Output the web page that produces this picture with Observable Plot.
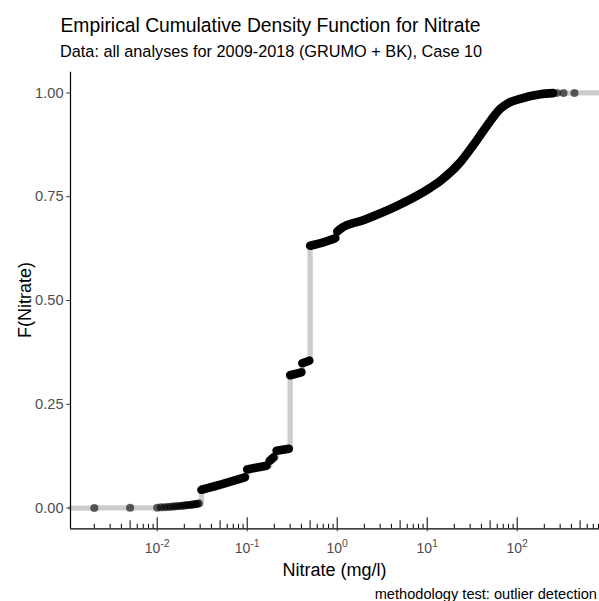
<!DOCTYPE html>
<html><head><meta charset="utf-8">
<script src="https://cdn.jsdelivr.net/npm/d3@7"></script>
<script src="https://cdn.jsdelivr.net/npm/@observablehq/plot@0.6"></script>
<style>
html,body{margin:0;padding:0;background:#fff;overflow:hidden}
#chart{width:599px;height:601px}
</style></head><body><div id="chart"></div>
<script>
// ---- data ----
// isolated single values (mg/l) and their ECDF
const pointX = [0.002, 0.005, 275, 327, 433];
const pointF = [0.0002, 0.0005, 0.9997, 0.9998, 1.0];
// cluster of values just above 0.01 mg/l
const clusterX = [0.010, 0.011, 0.012, 0.013, 0.014, 0.015, 0.016, 0.017, 0.018, 0.019, 0.020, 0.021, 0.022, 0.023, 0.024, 0.025, 0.026, 0.027, 0.028, 0.029];
const clusterF = [0.0010, 0.0017, 0.0022, 0.0027, 0.0031, 0.0036, 0.0041, 0.0046, 0.0050, 0.0055, 0.0061, 0.0066, 0.0071, 0.0075, 0.0080, 0.0085, 0.0090, 0.0096, 0.0102, 0.0108];
// dense runs of points (run id, value in mg/l, ECDF)
const runId = ["C","C","C", "D","D", "E","E", "F","F", "G","G", "H","H", "I","I","I",
  "J","J","J","J","J","J","J","J","J","J","J","J","J","J"];
const runX = [0.031, 0.055, 0.094, 0.100, 0.164, 0.178, 0.196, 0.212, 0.29, 0.30, 0.40, 0.41, 0.49, 0.5, 0.7, 0.95,
  1.0, 1.09, 1.98, 4.63, 10.9, 14.1, 23.5, 34, 50.5, 65, 80, 108, 181, 250];
const runF = [0.044, 0.059, 0.074, 0.093, 0.102, 0.114, 0.122, 0.138, 0.143, 0.320, 0.327, 0.349, 0.355, 0.632, 0.640, 0.650,
  0.666, 0.673, 0.694, 0.728, 0.772, 0.789, 0.834, 0.880, 0.933, 0.962, 0.976, 0.986, 0.997, 0.9995];
// axes
const xDomain = [0.001088, 821];
const yDomain = [-0.05, 1.05];
const yTicks = [0, 0.25, 0.5, 0.75, 1];
const xDecades = [0.01, 0.1, 1, 10, 100];
const xTickLabels = ["10^-2", "10^-1", "10^0", "10^1", "10^2"];

// ---- build tables ----
const points = pointX.map((x, i) => ({x, F: pointF[i], g: "p" + i}));
const cluster = clusterX.map((x, i) => ({x, F: clusterF[i], g: "cluster"}));
const runs = runX.map((x, i) => ({x, F: runF[i], g: runId[i]}));
const all = [...points, ...cluster, ...runs].sort((a, b) => a.x - b.x || a.F - b.F);
const stepPath = [{x: xDomain[0], F: 0, g: "pad"}];
for (const p of all) {
  const prev = stepPath[stepPath.length - 1];
  if (prev.g !== p.g) stepPath.push({x: p.x, F: prev.F, g: p.g});
  stepPath.push(p);
}
stepPath.push({x: xDomain[1], F: stepPath[stepPath.length - 1].F, g: "pad"});

// log tick positions (2..9 x 10^k) inside the domain
const minorShort = [], minorMid = [];
for (let k = -3; k <= 2; k++) for (let m = 2; m <= 9; m++) {
  const v = m * Math.pow(10, k);
  if (v < xDomain[0] || v > xDomain[1]) continue;
  (m === 5 ? minorMid : minorShort).push(v);
}

const W = 599, H = 601, mL = 70, mR = 0, mT = 71.7, mB = 72.7;
const panelH = H - mT - mB;
const font = "'Liberation Sans', Arial, sans-serif";

const svg = Plot.plot({
  width: W, height: H,
  marginLeft: mL, marginRight: mR, marginTop: mT, marginBottom: mB,
  style: {fontFamily: font, background: "white", overflow: "visible"},
  x: {type: "log", domain: xDomain},
  y: {domain: yDomain},
  marks: [
    Plot.line(stepPath, {x: "x", y: "F", stroke: "#CCCCCC", strokeWidth: 5.3, curve: "linear"}),
    Plot.line(runs, {x: "x", y: "F", z: "g", stroke: "black", strokeWidth: 8.6, strokeLinecap: "round", strokeLinejoin: "round", curve: "monotone-x"}),
    Plot.dot(cluster, {x: "x", y: "F", r: 4, fill: "black", fillOpacity: 0.6, stroke: null}),
    Plot.dot(points, {x: "x", y: "F", r: 4, fill: "black", fillOpacity: 0.6, stroke: null}),
    Plot.tickX(minorShort, {x: d => d, stroke: "black", strokeWidth: 1, insetTop: panelH - 4.5}),
    Plot.tickX(minorMid, {x: d => d, stroke: "black", strokeWidth: 1, insetTop: panelH - 8}),
    Plot.tickX(xDecades, {x: d => d, stroke: "black", strokeWidth: 1, insetTop: panelH - 11}),
    Plot.ruleY([yDomain[0]], {stroke: "black", strokeWidth: 1.2}),
    Plot.ruleX([xDomain[0]], {stroke: "black", strokeWidth: 1.2}),
    Plot.axisY({ticks: yTicks, tickFormat: d3.format(".2f"), tickSize: 3.7, tickPadding: 3.3, fontSize: 14.6, stroke: "#333333", fill: "#4D4D4D", label: null}),
    Plot.axisX({ticks: xDecades, tickFormat: d => xTickLabels[xDecades.indexOf(d)], tickSize: 3, tickPadding: 11, fontSize: 14, stroke: "#333333", fill: "#4D4D4D", label: null})
  ]
});
document.getElementById("chart").appendChild(svg);

// superscripts for the x tick labels
d3.select(svg).selectAll("text").each(function() {
  const t = this.textContent;
  const m = /^10\^(-?\d+)$/.exec(t);
  if (!m) return;
  const sel = d3.select(this);
  sel.text(null);
  sel.append("tspan").text("10");
  sel.append("tspan").attr("dy", "-5.5").attr("font-size", "10.5px").text(m[1]);
});

// titles and axis titles
const s = d3.select(svg);
const addText = (x, y, size, anchor, txt, transform) => {
  const t = s.append("text").attr("font-size", size).attr("fill", "black").attr("font-family", font).attr("text-anchor", anchor).text(txt);
  if (transform) t.attr("transform", transform); else t.attr("x", x).attr("y", y);
  return t;
};
addText(60.5, 32.3, 19.3, "start", "Empirical Cumulative Density Function for Nitrate");
addText(60, 56.7, 16.3, "start", "Data: all analyses for 2009-2018 (GRUMO + BK), Case 10");
addText((mL + W - mR) / 2, 575.5, 18, "middle", "Nitrate (mg/l)");
addText(0, 0, 18, "middle", "F(Nitrate)", `translate(31,${(mT + H - mB) / 2}) rotate(-90)`);
addText(597, 599, 14.6, "end", "methodology test: outlier detection");
</script>
</body></html>
